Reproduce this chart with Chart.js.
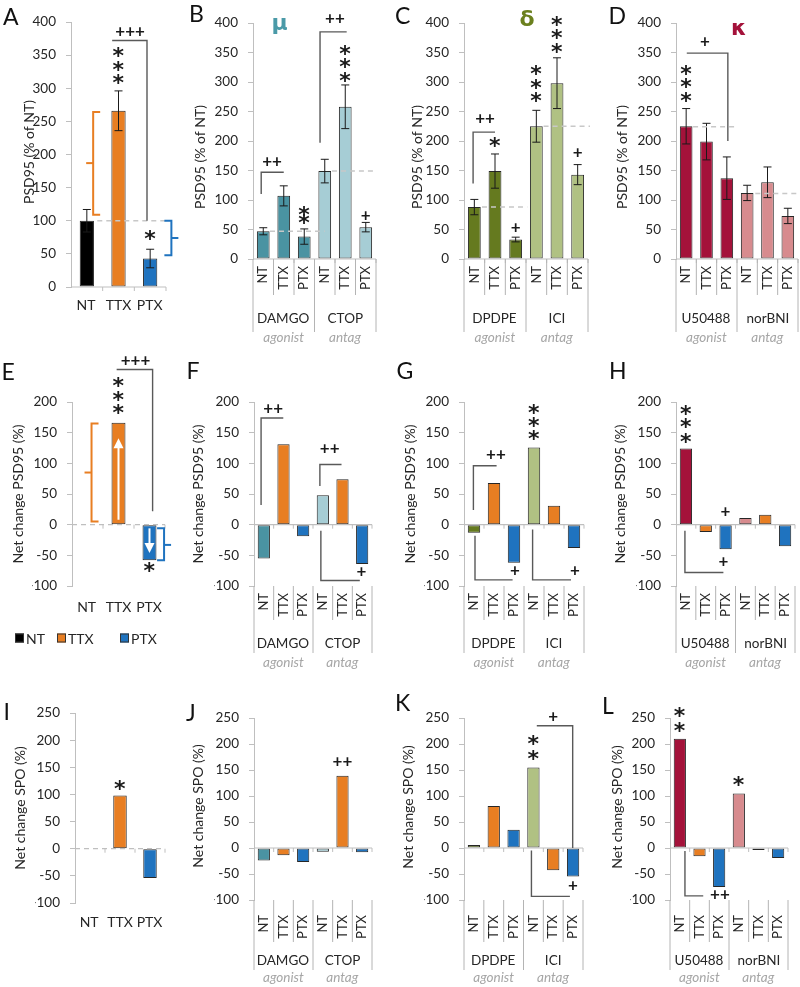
<!DOCTYPE html>
<html>
<head>
<meta charset="utf-8">
<script src="https://cdn.jsdelivr.net/npm/chart.js@4.4.0/dist/chart.umd.min.js"></script>
<style>
  body { margin: 0; background: #fff; width: 800px; height: 987px; position: relative; overflow: hidden; }
  canvas { position: absolute; }
</style>
</head>
<body>
<script>
// ---- data ----
const cats3 = ['NT', 'TTX', 'PTX'];
const cats6 = ['NT', 'TTX', 'PTX', 'NT', 'TTX', 'PTX'];
const roles = ['agonist', 'antag'];
const muGroups = ['DAMGO', 'CTOP'];
const deltaGroups = ['DPDPE', 'ICI'];
const kappaGroups = ['U50488', 'norBNI'];

// PSD95 (% of NT), mean and error
const psdA = [100, 266, 43];
const psdAErr = [17, 30, 14];
const psdB = [47, 107, 38, 149, 258, 54];
const psdBErr = [6, 17, 13, 20, 37, 8];
const psdC = [88, 149, 33, 225, 298, 143];
const psdCErr = [13, 29, 4, 27, 43, 17];
const psdD = [225, 199, 137, 112, 130, 73];
const psdDErr = [30, 31, 36, 13, 26, 13];

// net change PSD95 (%)
const netE = [0, 166, -58];
const netF = [-55, 131, -19, 48, 74, -64];
const netG = [-13, 68, -62, 126, 31, -38];
const netH = [124, -12, -40, 11, 16, -35];

// net change SPO (%)
const spoI = [0, 98, -54];
const spoJ = [-24, -14, -27, -7, 139, -8];
const spoK = [6, 81, 35, 155, -43, -55];
const spoL = [210, -16, -75, 105, -4, -19];

// ---- colours ----
const cNT = '#000000', cTTX = '#E87E22', cPTX = '#1F73BF';
const muDark = '#4A93A2', muLight = '#A6CDD5';
const dlDark = '#657A1F', dlLight = '#B0C183';
const kpDark = '#A4123A', kpLight = '#D78B8E';

const FONT = "Lato, 'DejaVu Sans', sans-serif";
const SYMFONT = "'DejaVu Sans', sans-serif";
Chart.defaults.font.family = FONT;
Chart.defaults.color = '#404040';

// offsets of the two-level category axis below the plot
const ML = {
  r1: { lab: 7, inner: 36, group: 59, outer: 73, role: 79 },
  r2: { lab: 7, inner: 34, group: 57, outer: 67, role: 77 },
  r3: { lab: 15, inner: 42, group: 60, outer: 70, role: 78 }
};

const psdTitle = 'PSD95 (% of NT)';
const netTitle = 'Net change PSD95 (%)';
const spoTitle = 'Net change SPO (%)';

const panels = [
  { id: 'A', box: [0, 0, 185, 345], area: [71, 22, 166, 287], yMin: 0, yMax: 400,
    labels: cats3, values: psdA, err: psdAErr, colors: [cNT, cTTX, cPTX], barPct: 0.45,
    title: psdTitle, titleX: 29, titleY: 152, letter: ['A', 11, 16],
    axis: 'simple', axisY: 305, zero: 'solid',
    marks: [
      { k: 'dash', v: 100, x0: 0.33, x1: 2.55 },
      { k: 'brk', i: 0.2, v0: 264, v1: 109, vm: 187, dir: 1, c: cTTX },
      { k: 'brk', i: 2.67, v0: 100, v1: 48, vm: 74, dir: -1, c: cPTX },
      { k: 'path', pts: [[0.8, 372], [1.9, 372], [1.9, 100]] },
      { k: 'txt', i: 1.37, v: 386, s: '+++' },
      { k: 'star', i: 1, v: [354, 334, 314] },
      { k: 'star', i: 2, v: [78] }
    ] },
  { id: 'B', box: [185, 0, 200, 345], area: [253, 23, 376, 259], yMin: 0, yMax: 400,
    labels: cats6, groups: muGroups, values: psdB, err: psdBErr,
    colors: [muDark, muDark, muDark, muLight, muLight, muLight], barPct: 0.62,
    title: psdTitle, titleX: 200, titleY: 157, letter: ['B', 197, 13], sym: ['μ', 280, 26, '#4A9AA8'],
    axis: 'multi', ml: ML.r1,
    marks: [
      { k: 'dash', v: 47, x0: 0.33, x1: 3.0 },
      { k: 'dash', v: 149, x0: 3.35, x1: 5.45 },
      { k: 'path', pts: [[-0.1, 110], [-0.1, 147], [1.0, 147]] },
      { k: 'txt', i: 0.43, v: 166, s: '++' },
      { k: 'path', pts: [[2.77, 197], [2.77, 385], [4.07, 385]] },
      { k: 'txt', i: 3.5, v: 408, s: '++' },
      { k: 'star', i: 2, v: [81, 67] },
      { k: 'star', i: 4, v: [354, 332, 308] },
      { k: 'txt', i: 5, v: 73, s: '+' }
    ] },
  { id: 'C', box: [385, 0, 205, 345], area: [464, 23, 588, 259], yMin: 0, yMax: 400,
    labels: cats6, groups: deltaGroups, values: psdC, err: psdCErr,
    colors: [dlDark, dlDark, dlDark, dlLight, dlLight, dlLight], barPct: 0.62,
    title: psdTitle, titleX: 417, titleY: 157, letter: ['C', 403, 15], sym: ['δ', 527, 18, '#6B801E'],
    axis: 'multi', ml: ML.r1,
    marks: [
      { k: 'dash', v: 88, x0: 0.37, x1: 2.56 },
      { k: 'dash', v: 225, x0: 3.35, x1: 5.6 },
      { k: 'path', pts: [[-0.06, 128], [-0.06, 215], [1.0, 215]] },
      { k: 'txt', i: 0.52, v: 238, s: '++' },
      { k: 'star', i: 1, v: [198] },
      { k: 'txt', i: 2, v: 53, s: '+' },
      { k: 'star', i: 3, v: [320, 297, 274] },
      { k: 'star', i: 4, v: [404, 381, 358] },
      { k: 'txt', i: 5, v: 181, s: '+' }
    ] },
  { id: 'D', box: [590, 0, 210, 345], area: [676, 23, 798, 259], yMin: 0, yMax: 400,
    labels: cats6, groups: kappaGroups, values: psdD, err: psdDErr,
    colors: [kpDark, kpDark, kpDark, kpLight, kpLight, kpLight], barPct: 0.62,
    title: psdTitle, titleX: 622, titleY: 157, letter: ['D', 618, 15], sym: ['κ', 739, 29, '#A4123A'],
    axis: 'multi', ml: ML.r1,
    marks: [
      { k: 'dash', v: 224, x0: 0.34, x1: 2.55 },
      { k: 'dash', v: 111, x0: 3.4, x1: 5.6 },
      { k: 'path', pts: [[0.03, 349], [2.05, 349], [2.05, 200]] },
      { k: 'txt', i: 0.93, v: 368, s: '+' },
      { k: 'star', i: 0, v: [321, 298, 275] }
    ] },
  { id: 'E', box: [0, 345, 185, 325], area: [72, 402, 165, 586], yMin: -100, yMax: 200,
    labels: cats3, values: netE, colors: [cNT, cTTX, cPTX], barPct: 0.45,
    title: netTitle, titleX: 18, titleY: 494, letter: ['E', 9, 371],
    axis: 'simple', axisY: 607, zero: 'dashed', legendY: 638,
    marks: [
      { k: 'brk', i: 0.13, v0: 165, v1: 5, vm: 85, dir: 1, c: cTTX },
      { k: 'brk', i: 2.47, v0: -6, v1: -58, vm: -33, dir: -1, c: cPTX },
      { k: 'arrow', i: 1, v0: 8, v1: 141 },
      { k: 'arrow', i: 2, v0: -6, v1: -46 },
      { k: 'path', pts: [[0.94, 253], [2.1, 253], [2.1, 22]] },
      { k: 'txt', i: 1.55, v: 268, s: '+++' },
      { k: 'star', i: 1, v: [232, 210, 188] },
      { k: 'star', i: 2, v: [-69] }
    ] },
  { id: 'F', box: [185, 345, 200, 325], area: [254, 402, 372, 586], yMin: -100, yMax: 200,
    labels: cats6, groups: muGroups, values: netF,
    colors: [muDark, cTTX, cPTX, muLight, cTTX, cPTX], barPct: 0.62,
    title: netTitle, titleX: 198, titleY: 494, letter: ['F', 194, 370],
    axis: 'multi', ml: ML.r2,
    marks: [
      { k: 'path', pts: [[-0.14, 32], [-0.14, 174], [0.99, 174]] },
      { k: 'txt', i: 0.48, v: 190, s: '++' },
      { k: 'path', pts: [[2.85, 63], [2.85, 98], [3.95, 98]] },
      { k: 'txt', i: 3.35, v: 125, s: '++' },
      { k: 'path', pts: [[2.9, -10], [2.9, -91], [4.88, -91]] },
      { k: 'txt', i: 4.97, v: -77, s: '+' }
    ] },
  { id: 'G', box: [385, 345, 205, 325], area: [464, 402, 584, 586], yMin: -100, yMax: 200,
    labels: cats6, groups: deltaGroups, values: netG,
    colors: [dlDark, cTTX, cPTX, dlLight, cTTX, cPTX], barPct: 0.62,
    title: netTitle, titleX: 410, titleY: 494, letter: ['G', 405, 370],
    axis: 'multi', ml: ML.r2,
    marks: [
      { k: 'path', pts: [[-0.03, 24], [-0.03, 96], [1.13, 96]] },
      { k: 'txt', i: 1.1, v: 114, s: '++' },
      { k: 'path', pts: [[0.05, -18], [0.05, -90], [1.93, -90]] },
      { k: 'txt', i: 2.05, v: -74, s: '+' },
      { k: 'path', pts: [[2.93, -8], [2.93, -90], [4.85, -90]] },
      { k: 'txt', i: 5.05, v: -74, s: '+' },
      { k: 'star', i: 3, v: [188, 168, 146] }
    ] },
  { id: 'H', box: [590, 345, 210, 325], area: [676, 402, 795, 586], yMin: -100, yMax: 200,
    labels: cats6, groups: kappaGroups, values: netH,
    colors: [kpDark, cTTX, cPTX, kpLight, cTTX, cPTX], barPct: 0.62,
    title: netTitle, titleX: 620, titleY: 494, letter: ['H', 618, 370],
    axis: 'multi', ml: ML.r2,
    marks: [
      { k: 'star', i: 0, v: [187, 165, 142] },
      { k: 'txt', i: 2, v: 21, s: '+' },
      { k: 'path', pts: [[-0.05, -10], [-0.05, -78], [1.89, -78]] },
      { k: 'txt', i: 1.89, v: -60, s: '+' }
    ] },
  { id: 'I', box: [0, 670, 185, 317], area: [75, 713, 165, 903], yMin: -100, yMax: 250,
    labels: cats3, values: spoI, colors: [cNT, cTTX, cPTX], barPct: 0.45,
    title: spoTitle, titleX: 20, titleY: 808, letter: ['I', 7, 711],
    axis: 'simple', axisY: 922, zero: 'dashed',
    marks: [
      { k: 'star', i: 1, v: [118] }
    ] },
  { id: 'J', box: [185, 670, 200, 317], area: [254, 718, 372, 900], yMin: -100, yMax: 250,
    labels: cats6, groups: muGroups, values: spoJ,
    colors: [muDark, cTTX, cPTX, muLight, cTTX, cPTX], barPct: 0.62,
    title: spoTitle, titleX: 198, titleY: 806, letter: ['J', 190, 712],
    axis: 'multi', ml: ML.r3,
    marks: [
      { k: 'txt', i: 4, v: 167, s: '++' }
    ] },
  { id: 'K', box: [385, 670, 205, 317], area: [464, 718, 583, 900], yMin: -100, yMax: 250,
    labels: cats6, groups: deltaGroups, values: spoK,
    colors: [dlDark, cTTX, cPTX, dlLight, cTTX, cPTX], barPct: 0.62,
    title: spoTitle, titleX: 408, titleY: 807, letter: ['K', 404, 702],
    axis: 'multi', ml: ML.r3,
    marks: [
      { k: 'star', i: 3, v: [208, 179] },
      { k: 'path', pts: [[3.17, 235], [4.98, 235], [4.98, 0]] },
      { k: 'txt', i: 4.0, v: 253, s: '+' },
      { k: 'path', pts: [[2.9, -5], [2.9, -93], [4.84, -93]] },
      { k: 'txt', i: 5.0, v: -72, s: '+' }
    ] },
  { id: 'L', box: [590, 670, 210, 317], area: [670, 718, 788, 900], yMin: -100, yMax: 250,
    labels: cats6, groups: kappaGroups, values: spoL,
    colors: [kpDark, cTTX, cPTX, kpLight, cTTX, cPTX], barPct: 0.62,
    title: spoTitle, titleX: 617, titleY: 807, letter: ['L', 609, 705],
    axis: 'multi', ml: ML.r3,
    marks: [
      { k: 'star', i: 0, v: [262, 233] },
      { k: 'star', i: 3, v: [129] },
      { k: 'path', pts: [[0.26, -6], [0.26, -92], [1.19, -92]] },
      { k: 'txt', i: 2.04, v: -90, s: '++' }
    ] }
];

// ---- helpers ----
function seg(ctx, pts) {
  ctx.beginPath();
  pts.forEach(([x, y], k) => k ? ctx.lineTo(x, y) : ctx.moveTo(x, y));
  ctx.stroke();
}

// draw text with its glyph box centred on (x, y)
function centerText(ctx, s, x, y) {
  ctx.textAlign = 'left';
  ctx.textBaseline = 'alphabetic';
  const m = ctx.measureText(s);
  ctx.fillText(s, x - (m.actualBoundingBoxRight - m.actualBoundingBoxLeft) / 2,
    y + (m.actualBoundingBoxAscent - m.actualBoundingBoxDescent) / 2);
}

const decor = {
  id: 'decor',
  afterDatasetsDraw(chart) {
    const p = panels.find(q => q.id === chart.canvas.id);
    const ctx = chart.ctx, a = chart.chartArea;
    const xs = chart.scales.x, ys = chart.scales.y;
    const c0 = xs.getPixelForValue(0), cw = xs.getPixelForValue(1) - c0;
    const X = i => c0 + i * cw;
    const Y = v => ys.getPixelForValue(v);
    const ox = p.box[0], oy = p.box[1];
    const n = p.labels.length;
    const edge = k => a.left + k * (a.right - a.left) / n;
    ctx.save();

    // category axis at zero
    const y0 = Y(0);
    ctx.strokeStyle = '#bfbfbf';
    ctx.lineWidth = 1.2;
    if (p.zero === 'dashed') ctx.setLineDash([5, 4]);
    seg(ctx, [[a.left, y0], [a.right, y0]]);
    ctx.setLineDash([]);
    ctx.lineWidth = 1;
    for (let k = 1; k <= n; k++) seg(ctx, [[edge(k), y0], [edge(k), y0 + 4]]);

    if (p.axis === 'simple') {
      ctx.fillStyle = '#262626';
      ctx.font = '14px ' + FONT;
      p.labels.forEach((s, i) => centerText(ctx, s, X(i), p.axisY - oy));
    } else {
      const ml = p.ml, b = a.bottom;
      ctx.strokeStyle = '#b4b4b4';
      for (let k = 0; k <= n; k++) {
        const outer = k % 3 === 0;
        seg(ctx, [[edge(k), b], [edge(k), b + (outer ? ml.outer : ml.inner)]]);
      }
      ctx.fillStyle = '#262626';
      ctx.font = '13px ' + FONT;
      p.labels.forEach((s, i) => {
        ctx.save();
        ctx.translate(X(i), b + ml.lab);
        ctx.rotate(-Math.PI / 2);
        ctx.textAlign = 'right';
        ctx.textBaseline = 'middle';
        ctx.fillText(s, 0, 0);
        ctx.restore();
      });
      ctx.font = '13.5px ' + FONT;
      p.groups.forEach((g, j) => centerText(ctx, g, X(1 + 3 * j), b + ml.group));
      ctx.fillStyle = '#a6a6a6';
      ctx.font = 'italic 13.5px ' + FONT;
      roles.forEach((r, j) => centerText(ctx, r, X(1 + 3 * j), b + ml.role));
    }

    // error bars
    if (p.err) {
      ctx.strokeStyle = '#1a1a1a';
      ctx.lineWidth = 1;
      p.values.forEach((v, i) => {
        const x = X(i), e = p.err[i];
        seg(ctx, [[x, Y(v + e)], [x, Y(v - e)]]);
        seg(ctx, [[x - 4, Y(v + e)], [x + 4, Y(v + e)]]);
        seg(ctx, [[x - 4, Y(v - e)], [x + 4, Y(v - e)]]);
      });
    }

    // annotations
    p.marks.forEach(m => {
      if (m.k === 'dash') {
        ctx.strokeStyle = '#c8c8c8';
        ctx.lineWidth = 1.5;
        ctx.setLineDash([5, 4]);
        seg(ctx, [[X(m.x0), Y(m.v)], [X(m.x1), Y(m.v)]]);
        ctx.setLineDash([]);
      } else if (m.k === 'path') {
        ctx.strokeStyle = '#595959';
        ctx.lineWidth = 1.4;
        seg(ctx, m.pts.map(([i, v]) => [X(i), Y(v)]));
      } else if (m.k === 'brk') {
        ctx.strokeStyle = m.c;
        ctx.lineWidth = 2;
        const x = X(m.i), t = 7 * m.dir;
        seg(ctx, [[x + t, Y(m.v0)], [x, Y(m.v0)], [x, Y(m.v1)], [x + t, Y(m.v1)]]);
        seg(ctx, [[x, Y(m.vm)], [x - t, Y(m.vm)]]);
      } else if (m.k === 'arrow') {
        const x = X(m.i), ya = Y(m.v0), yb = Y(m.v1);
        const d = yb < ya ? -1 : 1;
        ctx.strokeStyle = '#ffffff';
        ctx.fillStyle = '#ffffff';
        ctx.lineWidth = 2;
        seg(ctx, [[x, ya], [x, yb - d * 8]]);
        ctx.beginPath();
        ctx.moveTo(x, yb);
        ctx.lineTo(x - 5, yb - d * 10);
        ctx.lineTo(x + 5, yb - d * 10);
        ctx.closePath();
        ctx.fill();
      } else if (m.k === 'txt') {
        ctx.fillStyle = '#1a1a1a';
        ctx.font = 'bold 17px ' + FONT;
        centerText(ctx, m.s, X(m.i), Y(m.v));
      } else if (m.k === 'star') {
        ctx.fillStyle = '#1a1a1a';
        ctx.font = 'bold 22px ' + SYMFONT;
        m.v.forEach(v => centerText(ctx, '*', X(m.i), Y(v)));
      }
    });

    // y axis title
    ctx.save();
    ctx.translate(p.titleX - ox, p.titleY - oy);
    ctx.rotate(-Math.PI / 2);
    ctx.fillStyle = '#262626';
    ctx.font = '14px ' + FONT;
    ctx.textAlign = 'center';
    ctx.textBaseline = 'middle';
    ctx.fillText(p.title, 0, 0);
    ctx.restore();

    // panel letter and receptor symbol
    ctx.fillStyle = '#111';
    ctx.font = '23px ' + FONT;
    centerText(ctx, p.letter[0], p.letter[1] - ox, p.letter[2] - oy);
    if (p.sym) {
      ctx.fillStyle = p.sym[3];
      ctx.font = 'bold 22px ' + SYMFONT;
      centerText(ctx, p.sym[0], p.sym[1] - ox, p.sym[2] - oy);
    }

    // legend (panel E)
    if (p.legendY) {
      const ly = p.legendY - oy;
      const items = [[cNT, 'NT', 15], [cTTX, 'TTX', 57], [cPTX, 'PTX', 120]];
      ctx.font = '14px ' + FONT;
      ctx.textAlign = 'left';
      ctx.textBaseline = 'middle';
      items.forEach(([c, s, x]) => {
        ctx.fillStyle = c;
        ctx.fillRect(x, ly - 4.5, 9, 9);
        ctx.strokeStyle = '#333';
        ctx.lineWidth = 1;
        ctx.strokeRect(x + 0.5, ly - 4, 8, 8);
        ctx.fillStyle = '#262626';
        ctx.fillText(s, x + 11, ly + 1);
      });
    }
    ctx.restore();
  }
};

const AXW = 40;
panels.forEach(p => {
  const cv = document.createElement('canvas');
  cv.id = p.id;
  cv.width = p.box[2];
  cv.height = p.box[3];
  cv.style.left = p.box[0] + 'px';
  cv.style.top = p.box[1] + 'px';
  document.body.appendChild(cv);

  new Chart(cv, {
    type: 'bar',
    data: {
      labels: p.labels,
      datasets: [{
        data: p.values,
        backgroundColor: p.colors,
        borderColor: '#262626',
        borderWidth: 1,
        borderSkipped: false,
        barPercentage: p.barPct,
        categoryPercentage: 1
      }]
    },
    options: {
      responsive: false,
      animation: false,
      events: [],
      layout: {
        padding: {
          left: p.area[0] - p.box[0] - AXW,
          right: p.box[0] + p.box[2] - p.area[2],
          top: p.area[1] - p.box[1],
          bottom: p.box[1] + p.box[3] - p.area[3]
        }
      },
      plugins: { legend: { display: false }, tooltip: { enabled: false } },
      scales: {
        x: { display: false, offset: true },
        y: {
          min: p.yMin,
          max: p.yMax,
          ticks: { stepSize: 50, color: '#262626', font: { size: 13.5 }, padding: 10 },
          grid: { drawOnChartArea: false, drawTicks: true, tickLength: 5, color: '#bfbfbf' },
          border: { color: '#bfbfbf' },
          afterFit: s => { s.width = AXW; }
        }
      }
    },
    plugins: [decor]
  });
});
</script>
</body>
</html>
